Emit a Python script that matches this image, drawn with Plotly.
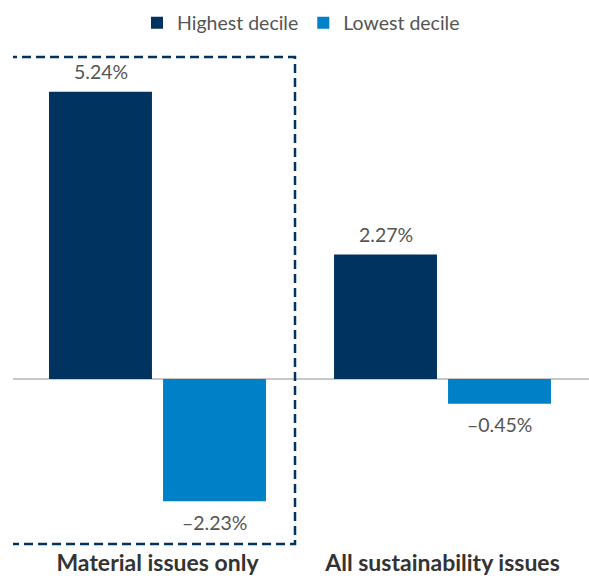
import plotly.graph_objects as go

categories = ["Material issues only", "All sustainability issues"]
series_names = ["Highest decile", "Lowest decile"]
highest = [5.24, 2.27]
lowest = [-2.23, -0.45]
colors = ["#00335f", "#0080c6"]

def fmt(v):
    return f"{v:.2f}%".replace("-", "\u2013")

FONT = "Lato"
fig = go.Figure()
for name, vals, col in zip(series_names, [highest, lowest], colors):
    fig.add_trace(go.Bar(
        x=categories, y=vals, name=name, marker=dict(color=col, line=dict(width=0)),
    ))

# value labels
slot_px = 57
for k, vals in enumerate([highest, lowest]):
    for cat, v in zip(categories, vals):
        fig.add_annotation(
            x=cat, y=v, xref="x", yref="y", text=fmt(v), showarrow=False,
            xshift=(-slot_px if k == 0 else slot_px),
            yshift=(20 if v >= 0 else -21), yanchor="middle",
            font=dict(family=FONT, size=19.5, color="#555555"),
        )

fig.update_layout(
    width=589, height=578,
    margin=dict(l=13, r=0, t=57, b=34, autoexpand=False),
    barmode="group", bargap=0.2, bargroupgap=0.097,
    plot_bgcolor="white", paper_bgcolor="white",
    showlegend=True,
    legend=dict(orientation="h", x=0.5, xanchor="center",
                yref="container", y=0.96, yanchor="middle",
                font=dict(family=FONT, size=19.5, color="#555555"),
                itemclick=False),
    xaxis=dict(range=[-0.507, 1.514], showgrid=False, showline=False, ticks="",
               ticklabelstandoff=3, automargin=False,
               tickfont=dict(family=FONT, size=23, color="#333333", weight="bold")),
    yaxis=dict(range=[-3.011, 5.876], showgrid=False, showticklabels=False,
               automargin=False,
               zeroline=True, zerolinecolor="#c8c8c8", zerolinewidth=1.5),
)

fig.add_shape(type="rect", xref="x", yref="paper",
              x0=-0.5175, x1=0.4825, y0=0, y1=1,
              line=dict(color="#00335f", width=2.5, dash="9px,5px"))

fig.write_html("out.html")
